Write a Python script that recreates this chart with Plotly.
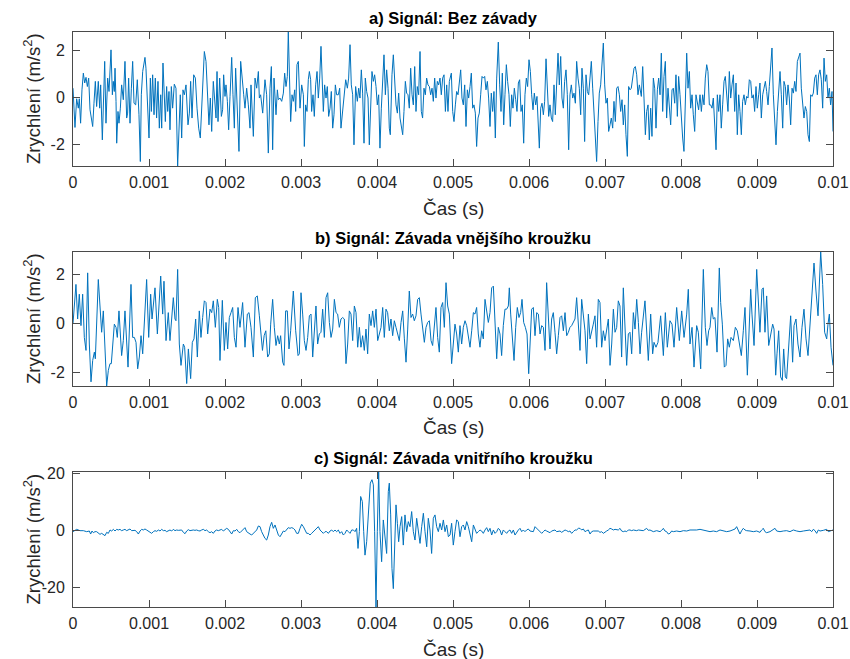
import plotly.graph_objects as go

# ---------------------------------------------------------------
# Vibration records (time in ms, acceleration in m/s^2)
# ---------------------------------------------------------------

# a) healthy bearing
t_a_ms = [
    0, 0.026, 0.048, 0.07, 0.083, 0.10, 0.118, 0.136, 0.154, 0.171, 0.189, 0.206, 0.224, 0.246, 0.259,
    0.276, 0.294, 0.311, 0.333, 0.351, 0.364, 0.386, 0.404, 0.417, 0.434, 0.456, 0.474, 0.5, 0.518, 0.53,
    0.544, 0.553, 0.566, 0.575, 0.592, 0.605, 0.623, 0.64, 0.662, 0.684, 0.706, 0.719, 0.732, 0.75, 0.768,
    0.785, 0.803, 0.825, 0.846, 0.868, 0.886, 0.899, 0.917, 0.947, 0.96, 0.978, 1.0, 1.018, 1.031, 1.048,
    1.066, 1.083, 1.1, 1.118, 1.136, 1.154, 1.167, 1.184, 1.202, 1.215, 1.232, 1.246, 1.263, 1.276, 1.294,
    1.311, 1.333, 1.355, 1.377, 1.395, 1.412, 1.43, 1.447, 1.465, 1.487, 1.513, 1.531, 1.548, 1.566, 1.588,
    1.61, 1.632, 1.654, 1.675, 1.706, 1.728, 1.75, 1.768, 1.789, 1.807, 1.825, 1.846, 1.864, 1.882, 1.895,
    1.908, 1.93, 1.952, 1.969, 1.982, 2.0, 2.013, 2.031, 2.048, 2.066, 2.088, 2.105, 2.123, 2.14, 2.162,
    2.184, 2.206, 2.228, 2.246, 2.263, 2.285, 2.307, 2.329, 2.342, 2.36, 2.373, 2.395, 2.417, 2.439,
    2.452, 2.469, 2.496, 2.526, 2.548, 2.57, 2.592, 2.61, 2.627, 2.645, 2.671, 2.689, 2.702, 2.724, 2.746,
    2.768, 2.785, 2.803, 2.82, 2.833, 2.851, 2.864, 2.882, 2.899, 2.917, 2.93, 2.947, 2.965, 2.987, 3.009,
    3.031, 3.044, 3.061, 3.079, 3.096, 3.11, 3.127, 3.14, 3.158, 3.175, 3.193, 3.211, 3.228, 3.246, 3.263,
    3.281, 3.294, 3.311, 3.329, 3.346, 3.364, 3.382, 3.399, 3.417, 3.434, 3.452, 3.469, 3.491, 3.509, 3.526,
    3.548, 3.57, 3.588, 3.61, 3.627, 3.645, 3.662, 3.68, 3.697, 3.719, 3.741, 3.759, 3.776, 3.794, 3.811,
    3.829, 3.846, 3.864, 3.882, 3.899, 3.917, 3.934, 3.952, 3.969, 3.987, 4.004, 4.022, 4.039, 4.057, 4.075,
    4.092, 4.11, 4.127, 4.145, 4.162, 4.175, 4.197, 4.215, 4.232, 4.25, 4.268, 4.285, 4.303, 4.32, 4.338,
    4.355, 4.373, 4.39, 4.408, 4.425, 4.443, 4.461, 4.478, 4.496, 4.513, 4.53, 4.548, 4.566, 4.583, 4.6,
    4.618, 4.636, 4.653, 4.671, 4.689, 4.706, 4.724, 4.741, 4.759, 4.776, 4.794, 4.811, 4.829, 4.846, 4.864,
    4.882, 4.9, 4.917, 4.934, 4.952,
    4.978, 4.996, 5.013, 5.031, 5.048, 5.066, 5.083, 5.101, 5.118, 5.136, 5.154, 5.171, 5.189, 5.206, 5.224,
    5.241, 5.259, 5.276, 5.294, 5.311, 5.329, 5.346, 5.364, 5.382, 5.399, 5.417, 5.434, 5.452, 5.469, 5.487,
    5.504, 5.522, 5.539, 5.557, 5.575, 5.596, 5.614, 5.632, 5.649, 5.667, 5.684, 5.702, 5.719, 5.737, 5.754,
    5.772, 5.789, 5.807, 5.825, 5.842, 5.86, 5.877, 5.895, 5.912, 5.93, 5.947, 5.965, 5.982, 6.0, 6.018,
    6.035, 6.053, 6.07, 6.088, 6.105, 6.123, 6.136, 6.154, 6.171, 6.189, 6.206, 6.224, 6.241, 6.259, 6.276,
    6.294, 6.311, 6.329, 6.346, 6.364, 6.382, 6.399, 6.417, 6.434, 6.452, 6.469, 6.487, 6.504, 6.522, 6.539,
    6.557, 6.575, 6.592, 6.61, 6.627, 6.645, 6.662, 6.68, 6.697, 6.715, 6.732, 6.75, 6.768, 6.785, 6.803,
    6.82, 6.838, 6.855, 6.873, 6.89, 6.908, 6.925, 6.943, 6.961, 6.978, 6.996, 7.013, 7.031, 7.048, 7.066,
    7.083, 7.101, 7.118, 7.136, 7.154, 7.171, 7.189, 7.206, 7.224, 7.241, 7.259, 7.276, 7.294, 7.311, 7.329,
    7.346, 7.364, 7.382, 7.399, 7.417, 7.434, 7.452,
    7.478, 7.496, 7.513, 7.531, 7.548, 7.566, 7.583, 7.601, 7.618, 7.636, 7.654, 7.671, 7.689, 7.706, 7.724,
    7.741, 7.759, 7.776, 7.794, 7.811, 7.829, 7.846, 7.864, 7.882, 7.899, 7.917, 7.934, 7.952, 7.969, 7.987,
    8.004, 8.022, 8.039, 8.057, 8.075, 8.092, 8.11, 8.127, 8.145, 8.162, 8.18, 8.197, 8.215, 8.232, 8.25,
    8.268, 8.285, 8.303, 8.32, 8.338, 8.355, 8.373, 8.39, 8.408, 8.425, 8.443, 8.461, 8.478, 8.496, 8.513,
    8.53, 8.548, 8.566, 8.583, 8.601, 8.618, 8.636, 8.654, 8.671, 8.689, 8.706, 8.724, 8.741, 8.759, 8.776,
    8.794, 8.811, 8.829, 8.846, 8.864, 8.882, 8.899, 8.917, 8.934, 8.952, 8.969, 8.987, 9.004, 9.022, 9.039,
    9.057, 9.075, 9.092, 9.11, 9.127, 9.145, 9.162, 9.18, 9.197, 9.215, 9.232, 9.25, 9.268, 9.285, 9.303,
    9.32, 9.338, 9.355, 9.373, 9.39, 9.408, 9.425, 9.443, 9.461, 9.478, 9.496, 9.513, 9.531, 9.548, 9.566,
    9.583, 9.601, 9.618, 9.636, 9.654, 9.671, 9.689, 9.706, 9.724, 9.741, 9.759, 9.776, 9.794, 9.811, 9.829,
    9.846, 9.864, 9.882, 9.899, 9.917, 9.934, 9.952, 9.969, 9.987, 10.0,
]
acc_a = [
    0.38, -1.29, -0.07, -0.47, -0.07, -1.11, 0.31, 1.02, 0.6, 0.84, 0.45, 0.81, -0.54, -0.92, -1.25,
    -0.26, 0.67, -0.4, 0.67, -0.47, 0.52, -1.82, 0.1, 1.52, -1.11, 0.81, 0.24, 2.01, 0.1, 0.67,
    0.24, 1.23, -0.18, -1.96, -0.61, -1.11, -0.47, 0.52, -0.11, 1.52, -0.89, -0.68, 0.81, -1.11, 0.38,
    1.52, -0.26, -0.33, 0.74, -0.75, -2.74, 0.1, 1.09, 1.69, 1.23, -0.33, -1.74, 0.81, -0.61, 0.95,
    -0.75, 0.81, -0.89, 0.67, -1.32, 0.1, -1.32, 1.45, -0.47, -1.04, 0.45, -0.61, 0.24, -1.39, 0.45,
    -0.47, 0.55, 0.38, -2.93, -1.04, 0.1, -1.74, 0.31, 0.1, 0.52, -1.18, -0.68, 0.67, -0.89, 0.95,
    0.81, -0.47, -1.32, -1.74, 0.1, 1.94, 1.52, -0.04, -1.18, -0.04, -1.46, 0.67, -0.04, -0.89, 1.09,
    -1.04, 0.81, -0.82, -0.54, 0.95, 0.03, 0.52, -0.18, -1.39, 0.03, 1.69, 0.1, -1.32, 1.23, -0.61,
    -2.31, 1.52, 0.88, 0.1, -0.47, 0.38, -0.33, -1.32, 0.52, -0.75, -1.67, 0.81, 0.38, 1.09,
    -0.04, 0.1, -0.68, 0.74, 0.1, -2.38, 0.38, 1.3, -2.24, 0.81, -0.75, 0.31, -0.11, -0.04, -0.18,
    0.17, 1.02, 0.45, 0.88, 2.77, 0.24, -1.04, 0.1, -0.18, 0.31, -0.61, 1.38, 1.52, -0.47, 0.52,
    0.1, -2.1, -0.33, -0.61, 0.74, 1.09, 0.74, -0.61, 0.1, -0.82, 0.52, 1.09, -0.04, 0.81, 2.16,
    0.1, -0.61, 0.52, -0.04, 0.45, -0.82, -0.47, 0.24, -1.32, -0.75, 0.52, 0.1, 0.1, 0.38, -1.32,
    -0.61, 0.17, 0.74, 0.38, 0.81, 2.23, 0.52, 0.1, -2.03, 0.45, -0.18, 0.38, -0.04, 1.16, 0.17,
    -1.96, 0.81, 0.24, -0.04, -2.03, 0.1, 1.09, 0.67, 0.95, 0.45, -0.33, 0.1, -2.17, -0.47, 0.81,
    1.8, 0.1, 1.16, 0.38, -1.32, -1.6, 0.95, 1.8, 0.52, -0.33, -0.68, 0.17, -0.89, -1.32, -1.6,
    -0.61, 0.67, 0.17, 0.1, -0.47, 1.23, 0.1, -0.33, 1.3, -0.61, 0.45, 0.1, 1.94, -0.61, -0.89,
    0.38, 0.1, 0.81, 0.52, 0.45, 0.1, 0.38, -0.18, 0.81, -0.04, 0.67, 0.52, 0.81, 0.1, 0.81,
    0.95, -0.61, 0.52, -0.61, 0.67,
    1.02, -0.61, -1.04, -0.33, 0.24, 0.1, 0.67, 1.16, -0.04, -0.33, 0.52, -1.25, 0.31, -0.04, 0.45,
    1.02, -0.47, -0.33, -0.68, -2.1, -0.89, -0.68, 0.1, 0.88, 0.81, 0.88, 0.31, 0.67, -0.04, -1.25,
    0.17, -0.61, 0.24, -1.74, 0.81, 2.34, 0.52, -0.61, 1.02, -1.18, 0.1, 1.38, 0.67, 0.1, -1.25,
    0.1, -0.47, 0.38, -0.11, -0.61, 0.6, 0.74, -0.61, -0.33, -1.96, 0.1, 0.81, 0.45, 1.59, 1.09,
    0.1, -0.54, 0.17, -0.33, 0.03, -1.04, -2.17, -0.47, -0.26, -0.75, -0.18, 1.63, 0.1, -0.82, -0.33,
    -0.89, -1.04, 0.52, -0.75, 0.74, 1.87, 0.52, 1.73, -0.04, -0.47, 0.67, 1.16, 0.1, -2.24, 0.1,
    0.52, -0.04, 0.17, -0.26, 1.52, 0.81, 0.38, -0.75, 1.23, 0.38, -1.89, 0.95, 0.24, 0.1, 0.88,
    1.52, 0.38, -0.61, -1.32, -2.74, -1.04, 0.17, 0.52, 1.38, 2.3, 0.52, -0.26, -0.04, -1.46, -1.18,
    -0.89, -1.32, -0.18, -1.04, 0.38, 0.45, 0.1, -0.61, -0.11, -1.18, -0.33, -1.6, -2.52, 0.45, 0.31,
    0.38, 0.74, 1.23, 1.3, 0.95, 0.1, 0.52,
    0.03, 1.3, -0.04, -1.6, -0.61, -0.33, -1.82, -0.47, -1.67, 0.81, 0.38, -1.32, 0.31, 0.81, 0.1,
    1.87, -0.61, 0.88, 1.52, -0.89, 0.38, -0.68, -1.18, 0.31, 0.38, -0.26, 0.95, -0.82, 0.88, 0.1,
    -1.04, -1.74, -2.31, 0.1, 1.87, 0.38, 1.09, -0.47, 0.1, -0.75, -1.46, 0.1, -0.18, -0.54, 0.1,
    -0.61, 0.1, -0.33, 0.81, 1.38, 1.09, -0.33, -0.33, -0.47, -0.04, -1.39, -2.24, 0.1, -0.61, 0.1,
    -1.32, -0.33, 0.67, 0.88, 0.1, -0.61, 1.09, -0.04, 0.52, 0.95, -0.61, 0.6, -1.6, 0.1, -0.61,
    -1.6, -0.18, 0.1, -0.33, 0.03, -0.04, 0.74, 0.67, -0.04, 0.1, -0.61, 0.45, -0.47, 0.1, 0.6,
    -0.89, 0.1, 0.38, 0.67, 0.24, -0.33, 0.45, 1.23, 2.09, 0.1, -1.04, -2.03, -0.61, 0.24, 1.09,
    0.1, -1.32, 0.67, 0.45, -0.33, 0.52, -0.04, -1.18, 0.38, 0.17, 0.67, 0.24, 1.52, 1.73, 1.87,
    0.38, -0.4, -0.89, -0.4, -0.61, -1.6, -1.89, 0.1, 0.03, 0.17, 0.81, 0.95, 0.1, 0.95, 1.16,
    0.74, -0.47, 1.66, 0.67, 0.95, -0.04, 0.38, -0.33, 0.24, -1.46,
]

# b) outer race fault
t_b_ms = [
    0, 0.039, 0.061, 0.083, 0.105, 0.127, 0.149, 0.171, 0.193, 0.215, 0.237, 0.259, 0.281, 0.294, 0.333,
    0.355, 0.377, 0.399, 0.421, 0.443, 0.465, 0.487, 0.504, 0.522, 0.544, 0.566, 0.583, 0.605, 0.64, 0.662,
    0.684, 0.724, 0.746, 0.763, 0.785, 0.807, 0.829, 0.851, 0.873, 0.895, 0.917, 0.934, 0.969, 0.996, 1.022,
    1.04, 1.079, 1.11, 1.154, 1.18, 1.197, 1.224, 1.254, 1.276, 1.32, 1.342, 1.355, 1.377, 1.399, 1.421,
    1.452, 1.469, 1.496, 1.518, 1.548, 1.57, 1.592, 1.614, 1.636, 1.662, 1.684, 1.706, 1.728, 1.75, 1.772,
    1.803, 1.825, 1.846, 1.873, 1.899, 1.917, 1.934, 1.965, 1.991, 2.013, 2.035, 2.057, 2.079, 2.101, 2.123,
    2.145, 2.171, 2.197, 2.232, 2.263, 2.294, 2.316, 2.342, 2.373, 2.399, 2.425,
    2.452, 2.493, 2.515, 2.537, 2.561, 2.583, 2.601, 2.627, 2.649, 2.671, 2.693, 2.715, 2.732, 2.759, 2.776,
    2.798, 2.82, 2.842, 2.864, 2.899, 2.93, 2.961, 2.978, 3.0, 3.022, 3.044, 3.066, 3.088, 3.11, 3.132,
    3.154, 3.175, 3.197, 3.219, 3.241, 3.263, 3.285, 3.307, 3.329, 3.351, 3.373, 3.395, 3.417, 3.439, 3.461,
    3.482, 3.504, 3.526, 3.548, 3.57, 3.592, 3.614, 3.636, 3.658, 3.68, 3.702, 3.724, 3.746, 3.768, 3.789,
    3.811, 3.833, 3.855, 3.877, 3.899, 3.921, 3.943, 3.965, 3.987, 4.009, 4.031, 4.053, 4.075, 4.096, 4.118,
    4.14, 4.162, 4.184, 4.206, 4.228, 4.25, 4.272, 4.294, 4.316, 4.338, 4.36, 4.382, 4.404, 4.425, 4.447,
    4.469, 4.491, 4.513, 4.535, 4.557, 4.579, 4.601, 4.623, 4.645, 4.667, 4.689, 4.711, 4.732, 4.754, 4.776,
    4.798, 4.82, 4.842, 4.864, 4.886, 4.908, 4.93, 4.952,
    4.982, 5.004, 5.026, 5.048, 5.07, 5.092, 5.114, 5.136, 5.158, 5.18, 5.202, 5.224, 5.246, 5.268, 5.289,
    5.311, 5.333, 5.355, 5.377, 5.399, 5.421, 5.443, 5.465, 5.487, 5.509, 5.531, 5.553, 5.575, 5.596, 5.618,
    5.64, 5.662, 5.684, 5.706, 5.728, 5.741, 5.759, 5.781, 5.803, 5.825, 5.846, 5.868, 5.89, 5.908, 5.93,
    5.952, 5.974, 5.996, 6.013, 6.035, 6.057, 6.079, 6.101, 6.123, 6.145, 6.167, 6.189, 6.211, 6.232, 6.254,
    6.276, 6.298, 6.32, 6.342, 6.364, 6.386, 6.408, 6.43, 6.452, 6.474, 6.496, 6.518, 6.539, 6.561, 6.583,
    6.605, 6.627, 6.649, 6.671, 6.693, 6.715, 6.737, 6.759, 6.781, 6.803, 6.825, 6.846, 6.868, 6.89, 6.912,
    6.934, 6.956, 6.978, 7.0, 7.022, 7.044, 7.066, 7.088, 7.11, 7.132, 7.154, 7.175, 7.197, 7.219, 7.241,
    7.263, 7.285, 7.307, 7.329, 7.351, 7.373, 7.395, 7.417, 7.439, 7.461,
    7.482, 7.526, 7.57, 7.601, 7.627, 7.645, 7.671, 7.697, 7.732, 7.768, 7.794, 7.82, 7.855, 7.882, 7.908,
    7.943, 7.978, 8.009, 8.04, 8.075, 8.096, 8.118, 8.145, 8.171, 8.206, 8.228, 8.259, 8.294, 8.32, 8.342,
    8.364, 8.382, 8.404, 8.425, 8.447, 8.474, 8.504, 8.522, 8.544, 8.57, 8.592, 8.614, 8.636, 8.658, 8.689,
    8.715, 8.741, 8.768, 8.794, 8.82, 8.842, 8.873, 8.899, 8.917, 8.934, 8.961, 8.996, 9.018, 9.039, 9.066,
    9.083, 9.105, 9.127, 9.154, 9.18, 9.206, 9.224, 9.246, 9.263, 9.285, 9.311, 9.333, 9.351, 9.373, 9.39,
    9.417, 9.443, 9.469, 9.487, 9.513, 9.539, 9.566, 9.592, 9.618, 9.645, 9.671, 9.697, 9.724, 9.75, 9.776,
    9.803, 9.838, 9.864, 9.89, 9.917, 9.934, 9.952, 9.974, 10.0,
]
acc_b = [
    0, 1.59, 0.18, 1.19, -0.09, 1.19, -0.57, -1.1, 2.06, -0.84, -2.38, -1.51, -1.17, -1.44, 1.79,
    0.65, -0.36, 0.51, -0.84, -2.55, -1.91, -1.64, -1.64, -0.97, -0.03, -0.16, -0.57, 0.51, -1.31, -0.7,
    0.51, -1.78, 0.24, 1.59, -0.57, -0.57, -0.77, -1.85, -1.37, -0.5, -1.24, -0.36, 1.79, -0.57, 1.19,
    0.18, 1.45, -0.43, 1.93, 0.38, 1.72, -0.7, 0.44, -0.7, 1.05, 0.18, 0.11, 2.2, -0.84, -1.71,
    -0.84, -0.97, -2.45, -1.04, -2.25, -0.77, -0.63, 0.18, -1.37, 0.51, -0.57, 0.24, 0.92, 0.85, -0.43,
    0.58, 0.44, 0.92, -0.16, 0.98, 0.65, -1.51, 0.94, -1.1, 0.04, -1.04, 0.24, 0.44, 0.65, -0.57,
    -0.97, 0.65, -0.16, 0.85, -0.97, 0.38, 0.44, -0.16, -1.37, 1.05, 1.12,
    0.31, -1.1, -0.5, -0.3, -1.37, -1.24, -0.03, 0.98, -0.16, -0.9, -0.5, -0.84, -0.5, -1.58, -1.71,
    0.51, 0.51, -1.04, -0.3, 1.32, -0.3, -1.31, -1.24, 1.25, 0.38, -0.7, -1.1, -0.57, 0.31, 0.38,
    -1.37, -0.3, 0.71, -0.84, -0.43, -0.36, 0.58, -0.57, 1.05, 1.25, 0.04, -0.57, -0.23, 0.98, 0.44,
    0.38, -0.16, 0.18, 0.24, 0.18, -1.64, -0.84, 0.51, 0.38, -0.7, 0.71, 0.44, -0.97, -0.16, -0.97,
    -0.5, -1.1, -0.23, -1.24, 0.38, -0.09, 0.51, -0.16, 0.58, -0.7, -0.36, -0.16, 0.65, -0.57, 0.58,
    0.44, -0.3, 0.18, -0.5, 0.11, -0.16, -0.43, -0.7, 0.04, 0.51, -0.63, -1.58, -0.23, 1.32, 0.24,
    0.38, 0.11, 0.31, 0.98, 1.05, 0.38, -0.36, -0.77, -0.16, 0.04, 0.11, -0.7, -0.9, -0.03, 0.65,
    -0.57, -1.17, 0.65, 0.85, -0.16, 1.66, 0.71, 0.38,
    -1.64, -0.84, -0.03, -0.43, -1.17, -0.09, -0.84, -0.16, 0.11, -0.09, -0.57, -0.97, -0.3, 0.44, 0.38,
    0.65, -0.43, -0.97, -0.3, -0.63, 0.98, 0.58, 0.04, 0.44, 1.45, 1.52, 0.24, -1.44, -0.16, -0.43,
    -1.31, -0.09, 0.58, 0.58, 0.71, 1.45, 0.38, -0.84, -1.51, -0.16, 0.65, 0.24, 0.44, 0.98, 0.04,
    -0.16, -0.43, -2.05, -0.7, 0.58, 0.65, -0.5, 0.44, 0.38, -0.43, -0.09, -0.16, -1.1, 1.66, 0.38,
    -1.04, 0.18, 0.44, -0.36, -1.24, -0.5, 0.24, 0.31, -0.3, 0.44, -0.5, -0.36, -0.16, -0.09, 0.04,
    0.18, 1.05, -0.03, -1.1, 0.98, 0.38, -0.3, -1.64, 0.38, -0.63, -0.36, -0.03, 0.31, -0.97, 0.98,
    0.85, -0.97, -0.3, -0.7, -0.16, 0.18, -1.71, -0.84, 0.58, -0.36, -0.16, 0.92, 0.71, -1.37, 1.45,
    -0.3, -1.71, -0.43, -0.36, -1.24, 0.44, -0.23, 0.98, 0.04, -1.24,
    -0.36, 0.92, -1.51, 0.38, -1.24, -0.77, -0.97, -0.77, 0.31, -1.31, 0.44, -0.97, 0.11, -0.03, -0.97,
    0.65, -0.7, 0.51, -0.57, 0.38, 1.39, -0.84, -0.16, -1.78, -0.09, -0.36, -1.85, 2.2, -0.16, -0.9,
    -0.3, -0.16, 0.65, 0.18, 0.24, -1.17, 2.26, 0.85, -0.03, -1.78, -1.71, -0.63, -0.97, -0.57, -0.7,
    -0.16, -0.3, -0.77, -1.31, -0.3, 0.65, -2.11, 0.04, 1.39, 0.38, -0.9, 2.2, 1.05, -0.36, 1.39,
    1.45, -0.36, 1.12, -0.9, -0.5, -0.03, -0.23, -2.11, -1.24, -0.3, -2.18, -2.32, -1.04, -2.18, -2.25,
    -0.97, 0.31, -1.58, -0.09, 0.18, -0.84, -1.37, -0.16, 0.58, -0.63, -1.31, -0.09, 0.92, 2.46, 1.32,
    0.31, 2.91, 1.59, -0.36, -0.63, -0.03, 0.38, -0.97, -1.71,
]

# c) inner race fault
t_c_ms = [
    0.0, 0.048, 0.092, 0.136, 0.18, 0.215, 0.232, 0.25, 0.268, 0.289, 0.311, 0.333, 0.355, 0.377, 0.399,
    0.421, 0.443, 0.465, 0.487, 0.509, 0.531, 0.553, 0.575, 0.596, 0.618, 0.64, 0.662, 0.684, 0.706, 0.728,
    0.75, 0.772, 0.794, 0.816, 0.838, 0.86, 0.882, 0.904, 0.925, 0.947, 0.969, 0.991, 1.013, 1.035, 1.057,
    1.079, 1.101, 1.123, 1.145, 1.167, 1.189, 1.211, 1.232, 1.254, 1.276, 1.298, 1.32, 1.342, 1.364, 1.386,
    1.408, 1.43, 1.452, 1.474, 1.496, 1.518, 1.539, 1.561, 1.583, 1.605, 1.627, 1.649, 1.671, 1.693, 1.715,
    1.737, 1.759, 1.781, 1.803, 1.825, 1.846, 1.868, 1.89, 1.912, 1.934, 1.956, 1.978, 2.0, 2.022, 2.044,
    2.066, 2.088, 2.11, 2.132, 2.154, 2.175, 2.197, 2.219, 2.241, 2.263, 2.285, 2.307, 2.329, 2.351, 2.373,
    2.395, 2.417, 2.439, 2.461,
    2.482, 2.504, 2.526, 2.548, 2.57, 2.592, 2.614, 2.636, 2.658, 2.68, 2.702, 2.724, 2.746, 2.768, 2.789,
    2.811, 2.833, 2.855, 2.877, 2.899, 2.921, 2.943, 2.965, 2.987, 3.009, 3.031, 3.053, 3.075, 3.096, 3.118,
    3.14, 3.162, 3.184, 3.206, 3.228, 3.25, 3.272, 3.294, 3.316, 3.338, 3.36, 3.382, 3.404, 3.425, 3.447,
    3.469, 3.491, 3.513, 3.535, 3.557, 3.579, 3.601, 3.623, 3.645, 3.667, 3.689, 3.711, 3.732, 3.75, 3.768,
    3.785, 3.807, 3.825, 3.842, 3.864, 3.886, 3.912, 3.934, 3.952, 3.969, 3.987, 4.004, 4.022, 4.039, 4.061,
    4.083, 4.105, 4.127, 4.149, 4.162, 4.18, 4.197, 4.215, 4.232, 4.25, 4.268, 4.285, 4.303, 4.325, 4.346,
    4.368, 4.39, 4.412, 4.434, 4.456, 4.478, 4.5, 4.522, 4.544, 4.566, 4.588, 4.61, 4.632, 4.654, 4.675,
    4.697, 4.719, 4.741, 4.763, 4.785, 4.807, 4.829, 4.851, 4.873, 4.895, 4.917, 4.939, 4.961,
    4.982, 5.004, 5.026, 5.048, 5.07, 5.092, 5.114, 5.136, 5.158, 5.18, 5.202, 5.224, 5.246, 5.268, 5.289,
    5.311, 5.333, 5.355, 5.377, 5.399, 5.421, 5.443, 5.465, 5.487, 5.509, 5.531, 5.553, 5.575, 5.596, 5.618,
    5.64, 5.662, 5.684, 5.706, 5.728, 5.75, 5.772, 5.794, 5.816, 5.838, 5.86, 5.882, 5.904, 5.925, 5.947,
    5.969, 5.991, 6.013, 6.035, 6.057, 6.079, 6.101, 6.123, 6.145, 6.167, 6.189, 6.211, 6.232, 6.254, 6.276,
    6.298, 6.32, 6.342, 6.364, 6.386, 6.408, 6.43, 6.452, 6.474, 6.496, 6.518, 6.539, 6.561, 6.583, 6.605,
    6.627, 6.649, 6.671, 6.693, 6.715, 6.737, 6.759, 6.781, 6.803, 6.825, 6.846, 6.868, 6.89, 6.912, 6.934,
    6.956, 6.978, 7.0, 7.022, 7.044, 7.066, 7.088, 7.11, 7.132, 7.154, 7.175, 7.197, 7.219, 7.241, 7.263,
    7.285, 7.307, 7.329, 7.351, 7.373, 7.395, 7.417, 7.439, 7.461,
    7.504, 7.548, 7.57, 7.592, 7.636, 7.68, 7.724, 7.746, 7.768, 7.789, 7.811, 7.833, 7.855, 7.877, 7.899,
    7.943, 7.987, 8.031, 8.075, 8.118, 8.162, 8.206, 8.25, 8.294, 8.338, 8.382, 8.425, 8.469, 8.513, 8.557,
    8.601, 8.645, 8.689, 8.711, 8.732, 8.754, 8.776, 8.798, 8.82, 8.842, 8.864, 8.908, 8.952, 8.996, 9.039,
    9.061, 9.083, 9.105, 9.127, 9.171, 9.215, 9.237, 9.259, 9.303, 9.346, 9.39, 9.434, 9.478, 9.522, 9.566,
    9.61, 9.654, 9.697, 9.719, 9.741, 9.763, 9.785, 9.807, 9.829, 9.873, 9.917, 9.939, 9.961, 10.0,
]
acc_c = [
    -0.35, 0.47, 0, 0, -0.35, -0.12, -1.18, -0.12, -0.71, -0.35, -0.35, -0.94, -1.29, -0.94, -1.53,
    -1.76, -0.59, -0.94, 0.24, -0.12, 0.47, -0.12, 0.47, 0.24, 0.47, 0, 0.24, 0.47, 0, 0.24,
    0.59, 0, 0.12, 0.12, -0.35, -1.18, -0.12, 0.47, 0.24, 0.59, 0.24, -0.12, -0.59, -0.94, -0.35,
    0, -0.24, 0.24, -0.12, 0.47, 0, 0.12, -0.35, 0, 0.24, -0.12, 0.47, 0, 0.24, 0.12,
    0.24, 0.24, -0.59, -1.06, -0.12, 0.35, 0, 0.24, 0.24, 0.12, 0.24, 0, -0.12, 0.24, 0.47,
    0, 0.24, -0.35, -0.71, -0.35, -0.94, -0.12, 0.24, 0, 0.24, 0.47, -0.12, 0.35, 0.82, 0.47,
    -0.35, -1.18, 0, -0.12, 0.47, -0.35, -0.71, -0.12, 0.82, 1.06, -0.35, -0.94, -1.18, -1.53, -0.94,
    -0.35, 0.24, 1.65, 1.41,
    -0.35, -1.53, -2.71, -3.29, -1.53, 1.41, 2.94, 0.82, 2.0, 0.24, -1.53, -2.12, -0.94, -0.12, -0.35,
    0.47, 1.06, 0.82, 1.06, 0.82, 0.24, -0.94, -0.94, 0.82, 2.24, 1.41, 0.24, -0.94, -0.94, -1.53,
    -0.94, -0.35, 0.24, 0.82, 1.41, 0.24, -0.35, -0.94, -0.35, -0.35, -0.94, -0.12, 0.24, -0.35, 0.24,
    -0.35, 0.24, -0.94, -0.35, -1.53, -0.94, 0.24, -0.35, -0.94, 0.24, 0.24, -0.35, 0.82, -6.24, -0.35,
    12.0, 10.24, -0.35, -8.59, -3.88, 4.94, 16.7, 17.9, 16.1, -0.35, -26.8, -0.35, 20.6, -0.35, -10.9,
    3.76, -2.12, -8.0, 13.76, 16.7, 5.53, -13.3, -20.35, -1.53, 9.06, 2.59, -3.88, 1.41, 4.94, -5.06,
    5.53, -0.35, 3.18, 1.41, 6.71, -0.35, -3.29, 4.35, -0.35, -4.47, 1.41, 6.12, -0.35, -5.65, 4.35,
    0.24, -8.0, 4.35, 5.53, 1.41, -0.35, 2.59, 0.24, 3.76, -0.35, 2.0, -2.12, -1.53,
    2.59, -5.06, -0.35, 3.76, 3.18, -2.12, 1.41, 2.0, 0.24, 3.18, 1.41, -0.94, -3.88, 2.0, 0.24,
    -0.94, -0.35, 0.24, -0.12, -0.94, 0.24, 1.06, -0.35, 0.82, -1.53, 0.24, -0.94, -0.35, 0.82, 0.24,
    -1.53, 0.24, -0.35, -0.94, -0.12, 0.24, -0.94, 0.24, -1.53, -0.35, 0.24, 0.82, -0.35, 0.24, -0.35,
    0.24, 0.59, -0.12, -0.12, -0.35, 1.41, 0.82, 0, -0.35, -0.94, -0.35, 0.24, -0.12, -0.35, -0.71,
    -0.12, 0, 0.24, -0.35, -0.35, -0.12, -0.59, -0.12, 0.24, 0, -0.35, -0.12, -0.94, -0.35, 0.24,
    0.24, 0.82, 0.82, 0.24, 0.59, -0.35, 0, 0.24, -1.18, -0.35, -0.12, -0.12, -0.35, -0.12, -0.59,
    -0.35, -0.94, -0.35, -0.12, 0.24, 0.82, 0.59, 0.24, 0.47, 0.24, 0.24, 0.82, -0.12, -0.35, -0.12,
    -0.35, 0.24, 0.24, 0, 0.24, 0, 0, 0.24, 0.12,
    0, 0.82, 0.12, 0.24, -0.35, 0, -0.35, 0.12, 0.82, -0.12, -0.35, -1.18, -0.94, -0.12, -0.35,
    -0.12, -0.35, 0, -0.12, 0.24, 0.12, 0.24, 0.47, 0.24, 0, -0.35, -0.12, -0.35, 0.24, 0,
    -0.35, -0.12, 0.24, 0.59, 1.41, 0.24, -1.18, 0, 0.82, 0.24, 0, -0.12, -0.35, -0.12, -0.59,
    0.24, 0.82, -0.35, -0.71, -0.35, 0.24, 0.82, -0.12, -0.35, -0.12, 0, -0.35, 0.24, -0.12, -0.35,
    -0.12, 0, 0.24, -0.35, 0.47, 0, -0.94, 0.24, -0.12, 0.12, 0.47, -0.35, -0.12, 0.24,
]

titles = [
    "a) Signál: Bez závady",
    "b) Signál: Závada vnějšího kroužku",
    "c) Signál: Závada vnitřního kroužku",
]
x_label = "Čas (s)"
y_label = "Zrychlení (m/s<sup>2</sup>)"
x_tick_vals = [0, 0.001, 0.002, 0.003, 0.004, 0.005, 0.006, 0.007, 0.008, 0.009, 0.01]
x_tick_text = ["0", "0.001", "0.002", "0.003", "0.004", "0.005", "0.006", "0.007", "0.008", "0.009", "0.01"]
y_tick_vals = [[-2, 0, 2], [-2, 0, 2], [-20, 0, 20]]
y_tick_text = [["-2", "0", "2"], ["-2", "0", "2"], ["-20", "0", "20"]]

series = [(t_a_ms, acc_a), (t_b_ms, acc_b), (t_c_ms, acc_c)]

# ---------------------------------------------------------------
# Figure layout (pixel geometry of an 850 x 659 canvas)
# ---------------------------------------------------------------
W, H = 850, 659
LEFT, RIGHT = 73, 833
rows_px = [(32, 166), (252, 386), (472, 607)]

LINE_COLOR = "#0072BD"
AXIS_COLOR = "#4a4a4a"
TEXT_COLOR = "#262626"
FONT = "Liberation Sans, Arial, Helvetica, sans-serif"

fig = go.Figure()
annotations = []
x_dom = [LEFT / W, RIGHT / W]
x_mid = (LEFT + RIGHT) / 2 / W

for i, ((t_ms, acc), (top, bot)) in enumerate(zip(series, rows_px)):
    n = i + 1
    xa = "x" if n == 1 else f"x{n}"
    ya = "y" if n == 1 else f"y{n}"
    fig.add_trace(go.Scatter(
        x=[t / 1000.0 for t in t_ms], y=acc, mode="lines",
        line=dict(color=LINE_COLOR, width=1),
        xaxis=xa, yaxis=ya, showlegend=False, hoverinfo="skip",
    ))
    y_dom = [1 - bot / H, 1 - top / H]
    common = dict(
        showline=True, linecolor=AXIS_COLOR, linewidth=1, mirror="ticks",
        ticks="inside", ticklen=7, tickwidth=1, tickcolor=AXIS_COLOR,
        showgrid=False, zeroline=False, automargin=False,
        tickfont=dict(family=FONT, size=16, color=TEXT_COLOR),
    )
    fig.update_layout(**{
        ("xaxis" if n == 1 else f"xaxis{n}"): dict(
            domain=x_dom, anchor=ya, range=[0, 0.01],
            tickmode="array", tickvals=x_tick_vals, ticktext=x_tick_text,
            ticklabelstandoff=2, **common),
        ("yaxis" if n == 1 else f"yaxis{n}"): dict(
            domain=y_dom, anchor=xa, range=[min(acc), max(acc)],
            tickmode="array", tickvals=y_tick_vals[i], ticktext=y_tick_text[i],
            ticklabelstandoff=4, **common),
    })
    # subplot title
    annotations.append(dict(
        text=f"<b>{titles[i]}</b>", x=x_mid, y=1 - (top - 14) / H,
        xref="paper", yref="paper", xanchor="center", yanchor="middle",
        showarrow=False, font=dict(family=FONT, size=16.5, color="#000000")))
    # x axis label
    annotations.append(dict(
        text=x_label, x=x_mid, y=1 - (bot + 42) / H,
        xref="paper", yref="paper", xanchor="center", yanchor="middle",
        showarrow=False, font=dict(family=FONT, size=19, color=TEXT_COLOR)))
    # y axis label
    annotations.append(dict(
        text=y_label, x=32 / W, y=1 - (top + bot) / 2 / H,
        xref="paper", yref="paper", xanchor="center", yanchor="middle",
        textangle=-90, showarrow=False,
        font=dict(family=FONT, size=18.5, color=TEXT_COLOR)))

fig.update_layout(
    width=W, height=H, autosize=False,
    margin=dict(l=0, r=0, t=0, b=0, autoexpand=False),
    paper_bgcolor="white", plot_bgcolor="white",
    annotations=annotations,
)

fig.write_html("out.html")
